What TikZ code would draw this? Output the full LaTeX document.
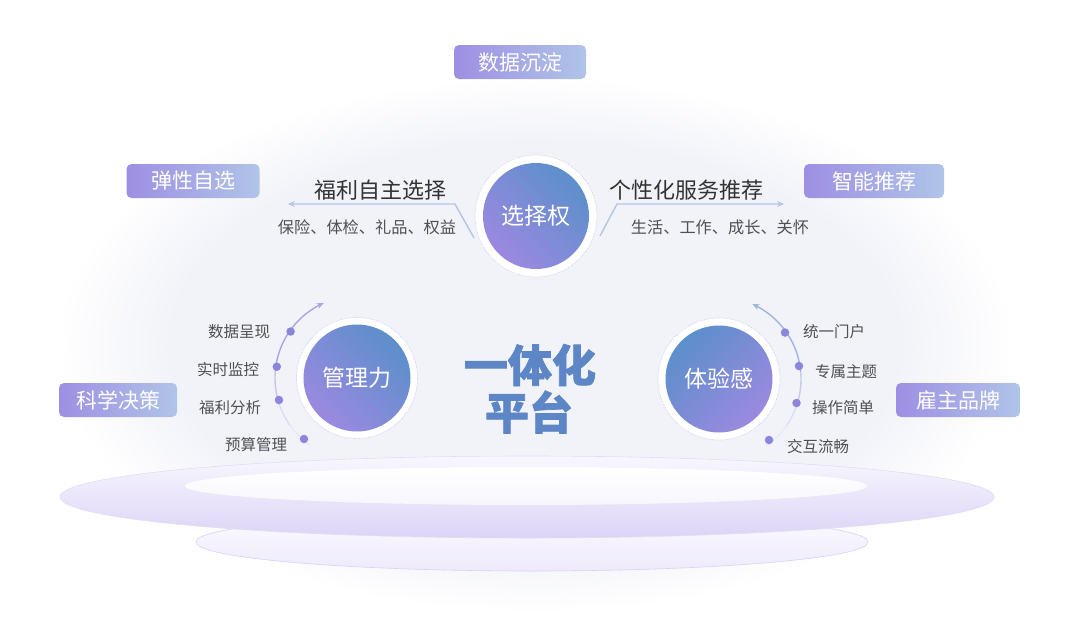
\documentclass[tikz,border=0pt]{standalone}
\usepackage{fontspec}
\setmainfont{Noto Sans CJK SC}
\newfontfamily\titlefont{Noto Sans CJK SC}[BoldFeatures={FakeBold=1.6}]
\usetikzlibrary{arrows.meta}
\definecolor{tagL}{HTML}{9D8FE3}
\definecolor{tagR}{HTML}{B0C4E8}
\definecolor{cirB}{HTML}{5C8FCB}
\definecolor{cirP}{HTML}{9C89E0}
\definecolor{lineC}{HTML}{B2C5E6}
\definecolor{arcL}{HTML}{A9A6E8}
\definecolor{arcR}{HTML}{9FB4E2}
\definecolor{dotC}{HTML}{8B86DC}
\definecolor{txtD}{HTML}{333333}
\definecolor{txtM}{HTML}{505050}
\definecolor{titleC}{HTML}{5D86C7}
\definecolor{domeC}{HTML}{F2F3F9}
\definecolor{ringC}{HTML}{CFCBEF}
\definecolor{discTop}{HTML}{F8F7FE}
\definecolor{discBot}{HTML}{DCD4F6}
\definecolor{discEdge}{HTML}{CEC5F1}
\definecolor{lowTop}{HTML}{FCFBFF}
\definecolor{lowBot}{HTML}{EEEAFC}
\definecolor{faceC}{HTML}{F7F6FD}
\pgfdeclareradialshading{domeshade}{\pgfpoint{0bp}{0bp}}{color(0bp)=(domeC); color(19bp)=(domeC); color(25bp)=(white); color(50bp)=(white)}
\tikzset{
  tag/.style={rounded corners=5pt, left color=tagL, right color=tagR, text=white,
    font=\fontsize{21}{24}\selectfont, minimum height=34pt, inner sep=0pt},
  outerring/.style={circle, fill=white, draw=ringC, densely dotted, line width=0.7pt, inner sep=0pt},
  ball/.style={circle, inner sep=0pt, text=white, font=\fontsize{23}{26}\selectfont},
  conn/.style={draw=lineC, line width=1.4pt, -{Stealth[length=7pt,width=6pt]}},
  head/.style={text=txtD, font=\fontsize{22}{25}\selectfont, inner sep=0pt},
  sub/.style={text=txtM, font=\fontsize{16.2}{19}\selectfont, inner sep=0pt},
  item/.style={text=txtM, font=\fontsize{15.5}{18}\selectfont, inner sep=0pt},
  dot/.style={circle, fill=dotC, inner sep=0pt, minimum size=8.5pt},
  title/.style={text=titleC, font=\titlefont\fontsize{44}{48}\selectfont\bfseries, inner sep=0pt},
}
\begin{document}
\begin{tikzpicture}[x=1pt,y=-1pt]
\useasboundingbox (0,0) rectangle (1080,619);
\fill[white] (0,0) rectangle (1080,619);
% dome background
\shade[shading=domeshade] (535,345) ellipse [x radius=480, y radius=268];
% platform
\shade[top color=lowTop, bottom color=lowBot] (532,542) ellipse [x radius=336, y radius=29];
\draw[discEdge!80, line width=0.6pt] (532,542) ellipse [x radius=336, y radius=29];
\shade[top color=discTop, bottom color=discBot] (527,497) ellipse [x radius=467, y radius=41];
\draw[discEdge!60, line width=0.6pt] (527,497) ellipse [x radius=467, y radius=41];
\shade[top color=white, bottom color=faceC] (526,486) ellipse [x radius=341, y radius=19];

% tags
\node[tag, minimum width=132pt] (t1) at (520,62) {数据沉淀};
\node[tag, minimum width=133pt] (t2) at (193,181) {弹性自选};
\node[tag, minimum width=140pt] (t3) at (874,181) {智能推荐};
\node[tag, minimum width=118pt] (t4) at (118,400) {科学决策};
\node[tag, minimum width=124pt] (t5) at (958,400) {雇主品牌};

% connectors of the top circle
\coordinate (l1) at (288,204);
\coordinate (l2) at (455,204);
\coordinate (l3) at (474,238);
\coordinate (r1) at (784,204);
\coordinate (r2) at (617,204);
\coordinate (r3) at (600,236);
\draw[conn] (l3) -- (l2) -- (l1);
\draw[conn] (r3) -- (r2) -- (r1);

% arcs around the lower circles
\foreach \a/\b/\o in {125/145/0.12,145/165/0.3,165/185/0.6}
  \draw[arcL, line width=1.4pt, opacity=\o] plot[domain=\a:\b, samples=12] ({357+82*cos(\x)},{378+82*sin(\x)});
\draw[arcL, line width=1.4pt, -{Stealth[length=7pt,width=6pt]}] plot[domain=185:246, samples=30] ({357+82*cos(\x)},{378+82*sin(\x)});
\foreach \a/\b/\o in {35/55/0.12,15/35/0.3,-5/15/0.6}
  \draw[arcR, line width=1.4pt, opacity=\o] plot[domain=\a:\b, samples=12] ({719+82*cos(\x)},{379+82*sin(\x)});
\draw[arcR, line width=1.4pt, {Stealth[length=7pt,width=6pt]}-] plot[domain=-66:-5, samples=30] ({719+82*cos(\x)},{379+82*sin(\x)});

% circles
\node[outerring, minimum size=122pt] (c1o) at (536,216) {};
\node[ball, minimum size=106pt, top color=cirB, bottom color=cirP, shading angle=-45] (c1) at (536,216) {选择权};
\node[outerring, minimum size=121pt] (c2o) at (357,378) {};
\node[ball, minimum size=107pt, top color=cirB, bottom color=cirP, shading angle=-45] (c2) at (357,378) {管理力};
\node[outerring, minimum size=122pt] (c3o) at (719,379) {};
\node[ball, minimum size=107pt, top color=cirB, bottom color=cirP, shading angle=45] (c3) at (719,379) {体验感};

% texts at top
\node[head] (h1) at (380,190) {福利自主选择};
\node[sub] (s1) at (367,227) {保险、体检、礼品、权益};
\node[head] (h2) at (686,190) {个性化服务推荐};
\node[sub] (s2) at (720,227) {生活、工作、成长、关怀};

% dots and items left
\node[dot] (dl1) at (290.6,331.5) {};
\node[dot] (dl2) at (276.8,366.7) {};
\node[dot] (dl3) at (279,400) {};
\node[dot] (dl4) at (304,439) {};
\node[item] (il1) at (239,332) {数据呈现};
\node[item] (il2) at (228,370) {实时监控};
\node[item] (il3) at (230,408) {福利分析};
\node[item] (il4) at (256,445) {预算管理};
% dots and items right
\node[dot] (dr1) at (785,332.5) {};
\node[dot] (dr2) at (799,366) {};
\node[dot] (dr3) at (796.5,403) {};
\node[dot] (dr4) at (769,440) {};
\node[item] (ir1) at (834,332) {统一门户};
\node[item] (ir2) at (846,372) {专属主题};
\node[item] (ir3) at (843,408) {操作简单};
\node[item] (ir4) at (818,447) {交互流畅};

% title
\node[title] (m1) at (530,365) {一体化};
\node[title] (m2) at (529,412) {平台};
\end{tikzpicture}
\end{document}
